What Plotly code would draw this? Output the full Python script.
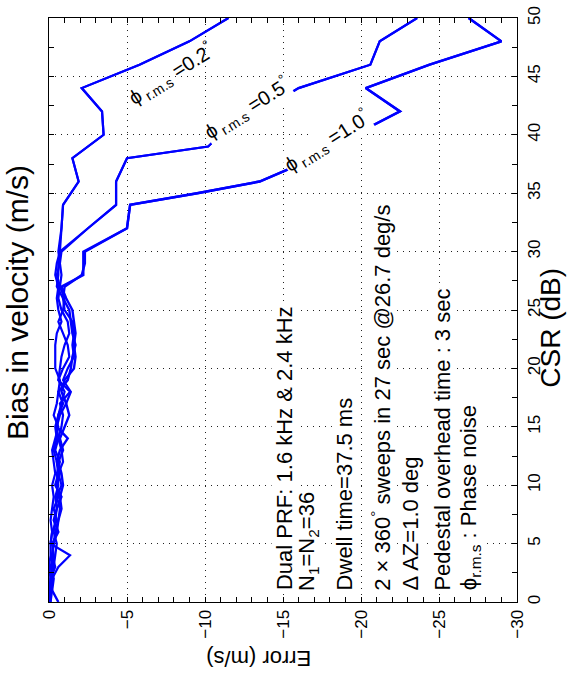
import plotly.graph_objects as go

# ---------------- data ----------------
# CSR (dB) levels and velocity-bias (m/s) values for each phase-noise level
csr_upper_10 = [50, 48, 46, 44, 42, 40, 38, 36, 35, 34, 32]
err_upper_10 = [-26.9, -29.0, -24.4, -20.3, -22.5, -19.6, -17.0, -13.5, -9.5, -5.2, -5.0]
csr_upper_05 = [50, 48, 46, 44, 42, 40, 39, 38, 36, 34, 32]
err_upper_05 = [-23.6, -21.2, -20.6, -16.0, -13.5, -11.0, -10.2, -5.0, -4.3, -4.3, -2.5]
csr_upper_02 = [50, 48, 46, 44, 42, 40, 38, 36, 34, 32]
err_upper_02 = [-11.5, -9.0, -5.8, -2.1, -3.4, -3.5, -1.5, -1.9, -0.9, -0.8]

csr_lower = [30, 29, 28, 27, 26, 25, 24, 23, 22, 21, 20, 19, 18, 17, 16, 15,
             14, 13, 12, 11, 10, 9, 8, 7, 6, 5, 4, 3, 2, 1, 0]
err_lower_10a = [-2.2, -2.2, -2.2, -0.8, -1.1, -1.5, -1.6, -1.7, -1.6, -1.7, -1.6,
                 -1.0, -0.8, -1.1, -1.3, -1.0, -0.7, -0.9, -0.6, -0.8, -0.9, -0.7,
                 -0.8, -0.6, -0.5, -0.3, -0.2, -0.2, -0.1, -0.1, 0.0]
err_lower_10b = [-2.3, -2.3, -2.1, -1.0, -0.9, -1.3, -1.4, -1.5, -1.7, -1.5, -1.4,
                 -1.2, -0.6, -0.9, -0.6, -0.5, -1.2, -0.7, -0.5, -0.6, -0.4, -0.8,
                 -0.5, -0.3, -0.6, -0.2, -0.3, -0.1, -0.3, -0.2, -0.6]
err_lower_05a = [-0.7, -0.6, -0.6, -0.5, -0.9, -1.0, -1.5, -1.6, -1.5, -1.6, -1.2,
                 -0.9, -1.4, -1.1, -0.7, -0.5, -0.6, -0.4, -0.7, -0.5, -0.6, -0.4,
                 -0.5, -0.4, -0.3, -0.5, -0.4, -0.3, -0.2, -0.1, -0.1]
err_lower_05b = [-0.8, -0.7, -0.5, -0.7, -0.6, -0.8, -1.2, -1.3, -1.0, -0.8, -0.7,
                 -0.6, -1.0, -0.8, -0.6, -0.4, -0.5, -0.3, -0.5, -0.7, -0.5, -0.6,
                 -0.3, -0.5, -0.2, -0.1, -1.35, -0.6, -0.2, -0.1, 0.0]
err_lower_02a = [-0.7, -0.5, -0.4, -0.6, -0.5, -0.6, -0.8, -0.5, -0.4, -0.4, -0.4,
                 -0.7, -0.6, -0.5, -0.3, -0.6, -0.4, -0.2, -0.3, -0.4, -0.2, -0.3,
                 -0.2, -0.1, -0.2, -0.1, -0.1, 0.0, -0.1, 0.0, 0.0]
err_lower_02b = [-0.6, -0.7, -0.8, -0.7, -1.0, -0.9, -0.6, -0.9, -1.2, -1.3, -0.9,
                 -0.6, -1.35, -0.7, -0.9, -0.8, -0.6, -0.8, -0.9, -0.6, -0.8, -0.5,
                 -0.7, -0.6, -0.4, -0.3, -0.2, -0.4, -0.1, -0.2, -0.1]

err_ticks = [0, -5, -10, -15, -20, -25, -30]
csr_ticks = [0, 5, 10, 15, 20, 25, 30, 35, 40, 45, 50]

info_lines = [
    "Dual PRF: 1.6 kHz &amp; 2.4 kHz",
    "N<sub>1</sub>=N<sub>2</sub>=36",
    "Dwell time=37.5 ms",
    "2 × 360<sup>°</sup> sweeps in 27 sec @26.7 deg/s",
    "Δ AZ=1.0 deg",
    "Pedestal overhead time : 3 sec",
    "ϕ<sub>r.m.s</sub> : Phase noise",
]
info_err_pos = [-15.1, -16.6, -19.0, -21.3, -23.2, -25.2, -27.0]

phi_labels = ["ϕ<sub> r.m.s</sub> =0.2<sup>°</sup>",
              "ϕ<sub> r.m.s</sub> =0.5<sup>°</sup>",
              "ϕ<sub> r.m.s</sub> =1.0<sup>°</sup>"]
phi_label_err = [-7.8, -12.7, -17.8]
phi_label_csr = [45.2, 42.25, 39.45]
phi_label_bg = ["rgba(0,0,0,0)", "white", "white"]

# ---------------- figure ----------------
BLUE = "#0000FF"
FONT = "Liberation Sans, Arial, Helvetica, sans-serif"

fig = go.Figure()
series = [
    (err_upper_02 + err_lower_02a, csr_upper_02 + csr_lower, 2.2),
    (err_upper_02 + err_lower_02b, csr_upper_02 + csr_lower, 2.2),
    (err_upper_05 + err_lower_05a, csr_upper_05 + csr_lower, 2.2),
    (err_upper_05 + err_lower_05b, csr_upper_05 + csr_lower, 2.2),
    (err_upper_10 + err_lower_10a, csr_upper_10 + csr_lower, 2.4),
    (err_upper_10 + err_lower_10b, csr_upper_10 + csr_lower, 2.4),
]
for ex, cy, w in series:
    fig.add_trace(go.Scatter(x=ex, y=cy, mode="lines",
                             line=dict(color=BLUE, width=w),
                             showlegend=False, hoverinfo="skip"))

annotations = []
for txt, xe in zip(info_lines, info_err_pos):
    annotations.append(dict(x=xe, y=0.9, xref="x", yref="y", text=txt,
                            showarrow=False, textangle=-90,
                            xanchor="center", yanchor="bottom",
                            bgcolor="white", borderpad=0,
                            font=dict(family=FONT, size=22, color="black")))
for txt, xe, yc, bg in zip(phi_labels, phi_label_err, phi_label_csr, phi_label_bg):
    annotations.append(dict(x=xe, y=yc, xref="x", yref="y", text=txt,
                            showarrow=False, textangle=-32,
                            xanchor="center", yanchor="middle",
                            bgcolor=bg, borderpad=0,
                            font=dict(family=FONT, size=20, color="black")))
# title and axis titles (figure is shown rotated)
annotations.append(dict(x=-0.066, y=0.512, xref="paper", yref="paper",
                        xanchor="center", yanchor="middle",
                        text="Bias in velocity (m/s)", showarrow=False,
                        textangle=-90, font=dict(family=FONT, size=30, color="black")))
annotations.append(dict(x=1.071, y=0.47, xref="paper", yref="paper",
                        xanchor="center", yanchor="middle",
                        text="CSR (dB)", showarrow=False,
                        textangle=-90, font=dict(family=FONT, size=28, color="black")))
annotations.append(dict(x=0.449, y=-0.097, xref="paper", yref="paper",
                        xanchor="center", yanchor="middle",
                        text="Error (m/s)", showarrow=False,
                        textangle=180, font=dict(family=FONT, size=22, color="black")))

grid = dict(showgrid=True, gridcolor="#222222", gridwidth=1, griddash="1px,5px")

fig.update_layout(
    width=575, height=681,
    margin=dict(l=49, r=58, t=6, b=79),
    paper_bgcolor="white", plot_bgcolor="white",
    annotations=annotations,
    font=dict(family=FONT, color="black"),
    xaxis=dict(range=[0, -30], tickmode="array", tickvals=err_ticks,
               tickangle=-90, ticks="inside", ticklen=5, tickcolor="black",
               showline=True, linecolor="black", linewidth=1, mirror="allticks",
               zeroline=False, tickfont=dict(size=17, family=FONT),
               ticklabeloverflow="allow",
               minor=dict(dtick=1, ticks="inside", ticklen=5, tickcolor="black",
                          showgrid=False),
               **grid),
    yaxis=dict(range=[0, 50], tickmode="array", tickvals=csr_ticks, side="right",
               tickangle=-90, ticks="inside", ticklen=5, tickcolor="black",
               showline=True, linecolor="black", linewidth=1, mirror="allticks",
               zeroline=False, tickfont=dict(size=17, family=FONT),
               ticklabelstandoff=2, ticklabeloverflow="allow",
               minor=dict(dtick=2.5, ticks="inside", ticklen=5, tickcolor="black",
                          showgrid=False),
               **grid),
)

fig.write_html("out.html")
